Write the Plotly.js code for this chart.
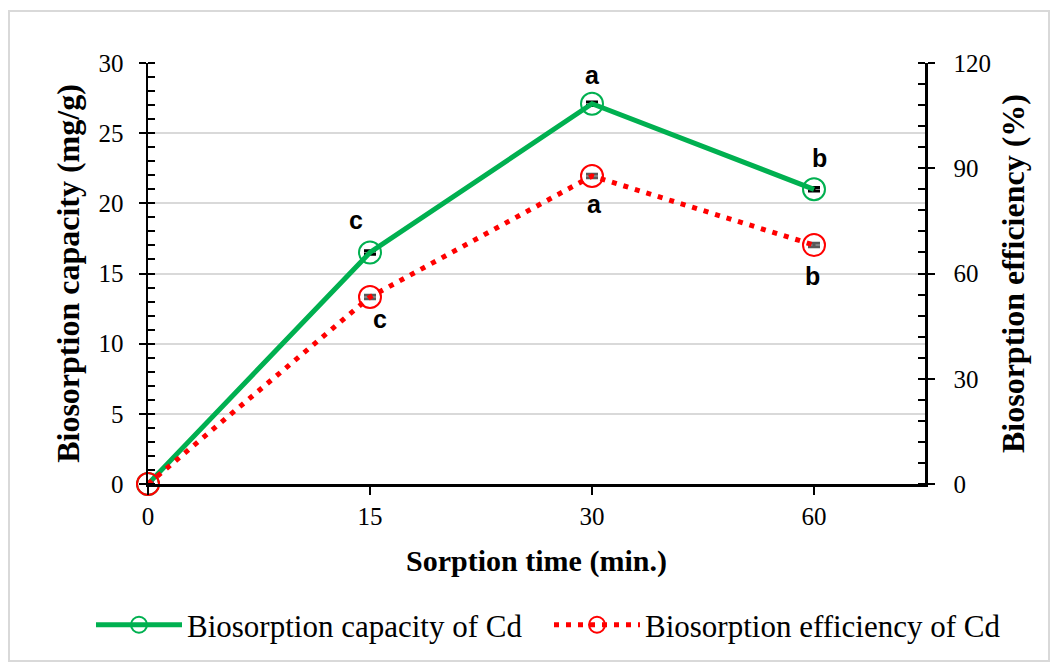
<!DOCTYPE html>
<html>
<head>
<meta charset="utf-8">
<script src="https://cdn.plot.ly/plotly-3.0.1.min.js"></script>
<style>
  html, body { margin: 0; padding: 0; background: #fff; }
  #wrap { position: relative; width: 1061px; height: 665px; }
  #chart { width: 1061px; height: 665px; }
  #frame { position: absolute; left: 8px; top: 10px; width: 1038px; height: 648px;
           border: 2px solid #d9d9d9; pointer-events: none; }
</style>
</head>
<body>
<div id="wrap"><div id="chart"></div><div id="frame"></div></div>
<script>
const timeLabels = ['0', '15', '30', '60'];
const capacity = [0, 16.5, 27.1, 21.0];
const efficiency = [0, 53.3, 87.8, 68.1];
const capacityErr = [0.12, 0.12, 0.12, 0.12];
const efficiencyErr = [0.5, 0.5, 0.5, 0.5];
const capacityLetters = ['', 'c', 'a', 'b'];
const efficiencyLetters = ['', 'c', 'a', 'b'];
const capacityName = 'Biosorption capacity of Cd';
const efficiencyName = 'Biosorption efficiency of Cd';

const serif = 'Liberation Serif, Times New Roman, serif';
const sans = 'Liberation Sans, Arial, sans-serif';

const traces = [
  // helper traces that only register the overlay axes carrying the inner half of the major ticks
  { x: timeLabels, y: capacity, yaxis: 'y3', type: 'scatter', mode: 'none', showlegend: false, hoverinfo: 'skip' },
  { x: timeLabels, y: efficiency, yaxis: 'y4', type: 'scatter', mode: 'none', showlegend: false, hoverinfo: 'skip' },
  {
    x: timeLabels, y: capacity, name: capacityName, type: 'scatter', mode: 'lines+markers',
    yaxis: 'y', legend: 'legend', cliponaxis: false,
    line: { color: '#00b050', width: 5 },
    marker: { symbol: 'circle-open', size: 22, color: '#00b050', line: { width: 2, color: '#00b050' } },
    error_y: { type: 'data', array: capacityErr, visible: true, color: '#000000', thickness: 3, width: 6 }
  },
  {
    x: timeLabels, y: efficiency, name: efficiencyName, type: 'scatter', mode: 'lines+markers',
    yaxis: 'y2', legend: 'legend2', cliponaxis: false,
    line: { color: '#ff0000', width: 5, dash: '5px,7px' },
    marker: { symbol: 'circle-open', size: 22, color: '#ff0000', line: { width: 2, color: '#ff0000' } },
    error_y: { type: 'data', array: efficiencyErr, visible: true, color: '#595959', thickness: 3, width: 6 }
  }
];

const capShift = [[0, 0], [-14, 32], [0, 29], [5, 31]];
const effShift = [[0, 0], [10, -22], [2, -28], [-2, -31]];
const annotations = [];
timeLabels.forEach((t, i) => {
  if (capacityLetters[i]) annotations.push({
    x: i, y: capacity[i], xref: 'x', yref: 'y', text: capacityLetters[i], showarrow: false,
    xshift: capShift[i][0], yshift: capShift[i][1],
    font: { family: sans, size: 25, color: '#000', weight: 'bold' }
  });
  if (efficiencyLetters[i]) annotations.push({
    x: i, y: efficiency[i], xref: 'x', yref: 'y2', text: efficiencyLetters[i], showarrow: false,
    xshift: effShift[i][0], yshift: effShift[i][1],
    font: { family: sans, size: 25, color: '#000', weight: 'bold' }
  });
});

const tickFont = { family: serif, size: 25, color: '#000' };
const legendFont = { family: serif, size: 31, color: '#000' };

const layout = {
  width: 1061, height: 665,
  margin: { l: 148, r: 136, t: 63, b: 181 },
  paper_bgcolor: '#ffffff', plot_bgcolor: '#ffffff',
  showlegend: true,
  legend: {
    orientation: 'h', xref: 'container', yref: 'container',
    x: 91 / 1061, xanchor: 'left', y: 0.06, yanchor: 'middle',
    font: legendFont, itemwidth: 86
  },
  legend2: {
    orientation: 'h', xref: 'container', yref: 'container',
    x: 549 / 1061, xanchor: 'left', y: 0.06, yanchor: 'middle',
    font: legendFont, itemwidth: 86
  },
  xaxis: {
    type: 'category', range: [0, 3.5],
    showline: true, linecolor: '#000', linewidth: 2.5,
    ticks: 'outside', ticklen: 8, tickwidth: 2, tickcolor: '#000',
    showgrid: false, zeroline: false,
    tickfont: tickFont,
    title: { text: 'Sorption time (min.)', font: { family: serif, size: 30, color: '#000', weight: 'bold' }, standoff: 22 }
  },
  yaxis: {
    range: [0, 30], dtick: 5,
    showline: true, linecolor: '#000', linewidth: 2.5,
    ticks: 'outside', ticklen: 7, tickwidth: 2, tickcolor: '#000',
    ticklabelstandoff: 10,
    minor: { dtick: 1, ticks: 'inside', ticklen: 7, tickwidth: 2, tickcolor: '#000', showgrid: false },
    showgrid: true, gridcolor: '#d9d9d9', gridwidth: 2, zeroline: false,
    tickfont: tickFont,
    title: { text: 'Biosorption capacity (mg/g)', font: { family: serif, size: 32, color: '#000', weight: 'bold' }, standoff: 10 }
  },
  yaxis2: {
    range: [0, 120], dtick: 30, overlaying: 'y', side: 'right',
    showline: true, linecolor: '#000', linewidth: 2.5,
    ticks: 'outside', ticklen: 7, tickwidth: 2, tickcolor: '#000',
    ticklabelstandoff: 14,
    minor: { dtick: 6, ticks: 'inside', ticklen: 7, tickwidth: 2, tickcolor: '#000', showgrid: false },
    showgrid: false, zeroline: false,
    tickfont: tickFont,
    title: { text: 'Biosorption efficiency (%)', font: { family: serif, size: 32, color: '#000', weight: 'bold' }, standoff: 12 }
  },
  yaxis3: {
    range: [0, 30], dtick: 5, overlaying: 'y', side: 'left', anchor: 'x',
    showline: false, showgrid: false, zeroline: false, showticklabels: false,
    ticks: 'inside', ticklen: 7, tickwidth: 2, tickcolor: '#000'
  },
  yaxis4: {
    range: [0, 120], dtick: 30, overlaying: 'y', side: 'right', anchor: 'x',
    showline: false, showgrid: false, zeroline: false, showticklabels: false,
    ticks: 'inside', ticklen: 7, tickwidth: 2, tickcolor: '#000'
  },
  annotations: annotations
};

Plotly.newPlot('chart', traces, layout, { displayModeBar: false, staticPlot: true });
</script>
</body>
</html>
